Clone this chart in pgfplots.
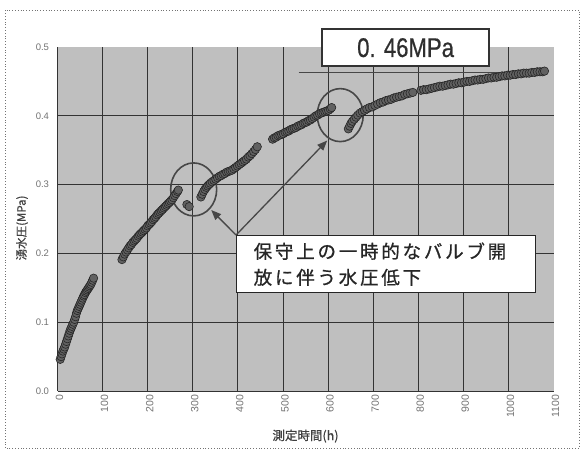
\documentclass[border=0pt]{standalone}
\usepackage{pgfplots}
\pgfplotsset{compat=1.18}
\usepackage{fontspec}
\setmainfont{Liberation Sans}
\newfontfamily\jp[FakeBold=0.6]{Noto Sans CJK JP}
\newfontfamily\jpsp[LetterSpace=15, FakeBold=0.8]{Noto Sans CJK JP}
\newfontfamily\cond[FakeStretch=0.82, FakeBold=0.6]{Liberation Sans}
\usetikzlibrary{arrows.meta}
\begin{document}
\begin{tikzpicture}[x=1pt,y=1pt]
\useasboundingbox (0,0) rectangle (583,457);
\fill[white] (0,0) rectangle (583,457);
\draw[black!55, dotted, line width=0.8pt] (5,9) rectangle (579,447);
\begin{axis}[
  at={(57.5pt,66pt)}, anchor=south west,
  scale only axis, width=496pt, height=344pt,
  xmin=0, xmax=1100, ymin=0, ymax=0.5,
  clip=false,
  axis background/.style={fill=black!25},
  axis line style={draw=none},
  major tick length=0pt,
  xtick={0,100,...,1000}, extra x ticks={1100}, extra x tick style={grid=none},
  ytick={0,0.1,0.2,0.3,0.4}, extra y ticks={0.5}, extra y tick style={grid=none},
  grid=major,
  major grid style={black!80, line width=0.9pt},
  /pgf/number format/assume math mode=true,
  /pgf/number format/set thousands separator={},
  yticklabel style={/pgf/number format/.cd, fixed, fixed zerofill, precision=1, /tikz/.cd, font=\fontsize{9.5pt}{11pt}\selectfont, text=black!55, xshift=-5pt},
  xticklabel style={rotate=90, anchor=east, font=\fontsize{10.5pt}{12pt}\selectfont, text=black!55, yshift=-2pt},
  xlabel={\jp 測定時間(h)},
  ylabel={\jp 湧水圧(MPa)},
  xlabel style={at={(axis description cs:0.5,-0.131)}, anchor=center, font=\fontsize{12.5pt}{14pt}\selectfont, text=black!75},
  ylabel style={at={(axis description cs:-0.0716,0.474)}, anchor=center, font=\fontsize{11.5pt}{13pt}\selectfont, text=black!75},
]
\draw[black!72, line width=1.3pt] (axis cs:535,0.4625) -- (axis cs:1081,0.4625);
\addplot[only marks, mark=*, mark size=4.2pt, mark options={fill=black!62, draw=black!85, line width=0.6pt}] table {
x y
6 0.046
8 0.050
10 0.054
12 0.058
14 0.061
16 0.064
18 0.068
20 0.072
22 0.076
24 0.080
26 0.084
28 0.088
30 0.091
32 0.094
34 0.097
36 0.100
38 0.104
40 0.108
42 0.113
44 0.117
46 0.120
48 0.123
50 0.126
52 0.129
54 0.132
56 0.135
58 0.138
60 0.140
62 0.143
64 0.145
66 0.147
68 0.149
70 0.151
72 0.153
74 0.155
76 0.158
78 0.161
80 0.164
143 0.191
146 0.195
149 0.199
152 0.202
155 0.205
158 0.208
161 0.211
164 0.213
167 0.216
170 0.218
173 0.220
176 0.222
179 0.225
182 0.227
185 0.229
188 0.231
191 0.233
194 0.235
197 0.237
200 0.240
203 0.242
206 0.244
209 0.246
212 0.249
215 0.251
218 0.253
221 0.256
224 0.258
227 0.260
230 0.262
233 0.264
236 0.266
239 0.268
242 0.270
245 0.272
248 0.274
251 0.276
254 0.278
257 0.281
260 0.284
263 0.287
266 0.290
268 0.292
287 0.271
292 0.268
318 0.282
321 0.286
324 0.290
327 0.293
330 0.296
333 0.298
336 0.300
339 0.302
343 0.304
347 0.306
351 0.308
355 0.310
359 0.312
363 0.313
367 0.315
371 0.316
375 0.318
379 0.319
383 0.320
387 0.321
391 0.323
395 0.325
399 0.327
403 0.329
407 0.331
411 0.333
415 0.335
419 0.337
423 0.340
427 0.342
431 0.345
435 0.348
439 0.351
443 0.355
477 0.366
481 0.368
485 0.369
489 0.371
493 0.372
497 0.373
501 0.374
505 0.376
509 0.377
513 0.378
517 0.380
521 0.381
525 0.382
529 0.383
533 0.385
537 0.386
541 0.387
545 0.389
549 0.390
553 0.391
557 0.393
561 0.394
565 0.396
569 0.398
573 0.400
577 0.401
581 0.403
585 0.404
589 0.405
593 0.406
597 0.407
601 0.408
605 0.410
608 0.412
645 0.381
648 0.385
651 0.389
654 0.392
658 0.395
662 0.398
666 0.401
671 0.404
676 0.406
681 0.408
686 0.410
692 0.412
698 0.413
704 0.415
710 0.417
716 0.419
722 0.420
728 0.422
734 0.423
740 0.424
746 0.426
752 0.427
758 0.428
764 0.429
770 0.431
776 0.432
782 0.433
788 0.434
806 0.437
812 0.438
818 0.438
824 0.439
830 0.440
836 0.441
842 0.442
848 0.443
854 0.443
860 0.444
866 0.445
872 0.446
878 0.446
884 0.447
890 0.448
896 0.448
902 0.449
908 0.450
914 0.450
920 0.451
926 0.452
932 0.452
938 0.453
944 0.453
950 0.454
956 0.455
962 0.455
968 0.456
974 0.456
980 0.457
986 0.458
992 0.458
998 0.459
1004 0.459
1010 0.460
1016 0.460
1022 0.461
1028 0.461
1034 0.462
1040 0.462
1046 0.462
1052 0.463
1058 0.463
1064 0.464
1070 0.464
1076 0.464
1080 0.465
};
\draw[black!72, line width=1.6pt] (axis cs:302,0.293) ellipse [x radius=23pt, y radius=26.5pt];
\draw[black!72, line width=1.6pt] (axis cs:627,0.401) ellipse [x radius=23pt, y radius=26.5pt];
\draw[black!72, line width=1.3pt, -{Triangle[length=10pt,width=8pt]}] (axis cs:396,0.2267) -- (axis cs:341,0.263);
\draw[black!72, line width=1.3pt, -{Triangle[length=10pt,width=8pt]}] (axis cs:396,0.2267) -- (axis cs:598,0.364);
\node[draw=black!85, line width=1.3pt, fill=white, anchor=north west, minimum width=299pt, minimum height=57pt, inner xsep=17pt, inner ysep=0pt, text width=265pt, align=left, font=\jpsp\fontsize{18.5pt}{26pt}\selectfont, text=black!85] at (axis cs:396,0.2267) {保守上の一時的なバルブ開\\放に伴う水圧低下};
\node[draw=black!80, line width=1.5pt, fill=white, minimum width=167pt, minimum height=37pt, inner sep=0pt, font=\cond\fontsize{27pt}{30pt}\selectfont, text=black!82] at (axis cs:772,0.499) {0. 46MPa};
\end{axis}
\end{tikzpicture}
\end{document}
